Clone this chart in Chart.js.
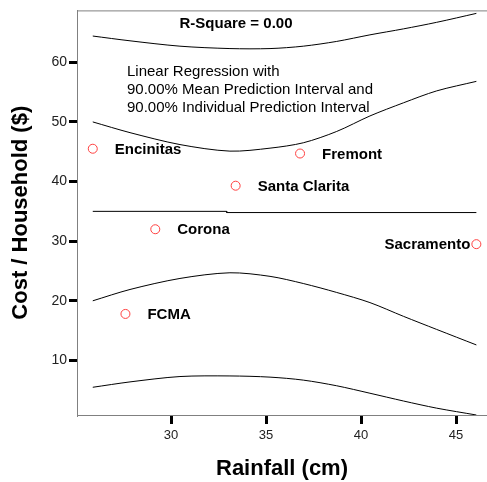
<!DOCTYPE html>
<html><head><meta charset="utf-8">
<script src="https://cdn.jsdelivr.net/npm/chart.js@4/dist/chart.umd.min.js"></script>
<style>html,body{margin:0;padding:0;background:#fff}</style>
</head><body>
<canvas id="c" width="487" height="482"></canvas>
<script>
// ---- data ----
const cities   = ['Encinitas', 'Santa Clarita', 'Fremont', 'Corona', 'FCMA', 'Sacramento'];
const rainfall = [25.88, 33.40, 36.79, 29.17, 27.60, 46.07];
const cost     = [45.5, 39.3, 44.7, 32.0, 17.8, 29.5];

const curveX    = [25.88, 27.84, 30.47, 33.10, 35.21, 36.96, 38.72, 40.47, 42.23, 43.98, 46.07];
const indUpper  = [64.4, 63.6, 62.7, 62.3, 62.3, 62.7, 63.5, 64.6, 65.6, 66.7, 68.2];
const meanUpper = [50.0, 48.2, 46.2, 45.1, 45.6, 46.5, 48.4, 51.0, 53.2, 55.2, 56.8];
const meanLower = [20.0, 21.9, 23.75, 24.7, 24.1, 22.9, 21.4, 19.7, 17.4, 15.2, 12.6];
const indLower  = [5.5, 6.4, 7.3, 7.4, 7.2, 6.7, 5.75, 4.5, 3.2, 2.0, 0.85];

const fitX = [25.88, 32.93, 32.93, 46.07];
const fitY = [35.0, 35.0, 34.8, 34.8];

const xTicks = [30, 35, 40, 45];
const yTicks = [10, 20, 30, 40, 50, 60];
const xRange = [25.05, 46.63];
const yRange = [0.85, 68.7];

const rSquareText = 'R-Square = 0.00';
const noteLines = ['Linear Regression with', '90.00% Mean Prediction Interval and', '90.00% Individual Prediction Interval'];
const xTitle = 'Rainfall (cm)';
const yTitle = 'Cost / Household ($)';

// ---- build ----
const FONT = "'Liberation Sans', Arial, sans-serif";
const pts = (xs, ys) => xs.map((x, i) => ({x, y: ys[i]}));
const lineDs = (xs, ys, smooth) => ({
  type: 'line', data: pts(xs, ys), borderColor: '#000', borderWidth: 1,
  pointRadius: 0, fill: false, showLine: true,
  tension: smooth ? 0.3 : 0
});

const decorPlugin = {
  id: 'decor',
  beforeDatasetsDraw(chart) {
    const {ctx, chartArea: a} = chart;
    ctx.save();
    ctx.strokeStyle = '#808080';
    ctx.lineWidth = 1;
    ctx.beginPath();
    ctx.moveTo(a.left, a.top + 0.5);
    ctx.lineTo(a.right, a.top + 0.5);
    ctx.stroke();
    ctx.restore();
  },
  afterDatasetsDraw(chart) {
    const {ctx, chartArea: a} = chart;
    const meta = chart.getDatasetMeta(0);
    ctx.save();
    ctx.fillStyle = '#000';
    ctx.textBaseline = 'middle';
    ctx.font = 'bold 15px ' + FONT;
    meta.data.forEach((el, i) => {
      const t = cities[i];
      const w = ctx.measureText(t).width;
      if (el.x + 22 + w > a.right) {
        ctx.textAlign = 'right';
        ctx.fillText(t, el.x - 6, el.y + 1);
      } else {
        ctx.textAlign = 'left';
        ctx.fillText(t, el.x + 22, el.y + 1);
      }
    });
    // annotation texts
    ctx.textAlign = 'center';
    ctx.font = 'bold 15px ' + FONT;
    ctx.fillText(rSquareText, a.left + 159, a.top + 13);
    ctx.textAlign = 'left';
    ctx.font = '15px ' + FONT;
    noteLines.forEach((s, i) => ctx.fillText(s, a.left + 50, a.top + 61 + i * 18));
    ctx.restore();
  }
};

new Chart(document.getElementById('c'), {
  type: 'scatter',
  data: {
    datasets: [
      {
        data: pts(rainfall, cost), pointRadius: 4.5, pointHoverRadius: 4.5,
        pointBorderColor: '#ff4040', pointBackgroundColor: 'rgba(255,255,255,0)',
        pointBorderWidth: 1, showLine: false
      },
      lineDs(curveX, indUpper, true),
      lineDs(curveX, meanUpper, true),
      lineDs(fitX, fitY, false),
      lineDs(curveX, meanLower, true),
      lineDs(curveX, indLower, true)
    ]
  },
  options: {
    responsive: false,
    animation: false,
    devicePixelRatio: 1,
    layout: {autoPadding: false, padding: {top: 9, right: 0, left: 0, bottom: 0}},
    plugins: {legend: {display: false}, tooltip: {enabled: false}},
    scales: {
      x: {
        type: 'linear', min: xRange[0], max: xRange[1],
        afterBuildTicks: s => { s.ticks = xTicks.map(v => ({value: v})); },
        afterFit: s => { s.height = 67; },
        grid: {drawOnChartArea: false, drawTicks: true, tickLength: 9, tickWidth: 3, tickColor: '#000', lineWidth: 3},
        border: {display: true, color: '#808080', width: 1},
        ticks: {color: '#222', font: {family: FONT, size: 13}, padding: 4, maxRotation: 0},
        title: {display: true, text: xTitle, color: '#000', font: {family: FONT, size: 22, weight: 'bold'}, padding: {top: 0, bottom: 0}}
      },
      y: {
        type: 'linear', min: yRange[0], max: yRange[1],
        afterBuildTicks: s => { s.ticks = yTicks.map(v => ({value: v})); },
        afterFit: s => { s.width = 77; },
        grid: {drawOnChartArea: false, drawTicks: true, tickLength: 8, tickWidth: 3, tickColor: '#000', lineWidth: 3},
        border: {display: true, color: '#808080', width: 1},
        ticks: {color: '#222', font: {family: FONT, size: 14}, padding: 2},
        title: {display: true, text: yTitle, color: '#000', font: {family: FONT, size: 22, weight: 'bold'}, padding: {top: 8, bottom: 0}}
      }
    }
  },
  plugins: [decorPlugin]
});
</script>
</body></html>
